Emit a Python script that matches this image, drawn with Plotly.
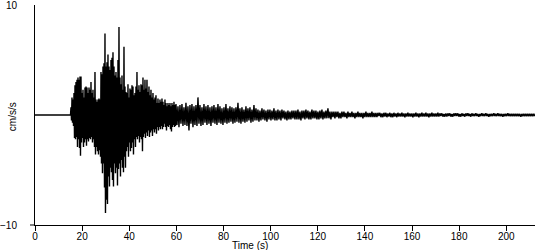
import plotly.graph_objects as go

# ---- data (cm/s/s) ----
t_onset = 14.85      # s, first sample of the strong-motion part
dt = 0.4243          # s, spacing of the peak samples
pre_event_time = [0.0, 14.85]
pre_event_acc = [0.0, 0.0]

strong_max = [0.0, 0.7, 1.6, 1.4, 2.0, 2.7, 3.0, 3.2, 3.4, 3.2,
              3.5, 3.5, 2.0, 2.3, 1.6, 2.5, 2.6, 2.5, 2.0, 2.5,
              2.3, 3.0, 2.0, 2.3, 1.6, 3.9, 1.4, 1.2, 1.4, 1.5,
              1.4, 3.9, 3.7, 4.4, 4.7, 7.4, 4.4, 4.8, 5.5, 4.4,
              4.1, 5.0, 5.2, 5.7, 4.4, 3.6, 3.9, 3.4, 5.0, 8.0,
              3.4, 2.8, 3.6, 2.3, 6.2, 2.6, 2.1, 2.0, 2.8, 1.6,
              2.4, 2.3, 2.7, 2.6, 1.8, 2.0, 2.6, 3.9, 2.3, 2.7,
              2.1, 2.8, 2.7, 3.4, 2.3, 3.2, 2.4, 3.2, 2.1, 2.6,
              1.8, 2.3, 1.6, 2.0, 1.4, 1.6, 1.8, 1.1, 1.5, 1.1,
              1.4, 1.2, 1.5, 1.2, 0.9, 1.4, 1.1, 0.8, 1.1, 0.9,
              1.1, 0.8, 1.1, 0.9, 1.2, 0.9]
strong_min = [0.0, -0.5, -0.7, -1.0, -2.1, -2.2, -2.0, -2.9, -2.2, -3.0,
              -3.7, -2.5, -2.1, -2.9, -2.5, -2.2, -2.8, -2.2, -2.4, -2.1,
              -2.2, -2.0, -2.5, -2.2, -2.9, -3.6, -2.9, -3.3, -3.6, -3.2,
              -3.8, -4.4, -5.3, -4.4, -6.6, -8.9, -7.7, -8.1, -5.6, -6.5,
              -4.8, -5.2, -5.9, -6.5, -4.4, -5.3, -4.8, -6.4, -4.9, -4.4,
              -5.6, -4.1, -4.8, -5.2, -3.8, -4.8, -3.3, -2.9, -3.8, -2.5,
              -3.3, -3.0, -2.5, -3.6, -2.2, -2.9, -2.0, -2.2, -1.9, -2.5,
              -2.0, -2.2, -3.3, -2.0, -1.7, -2.1, -1.6, -1.9, -1.4, -2.0,
              -1.6, -1.4, -1.9, -1.3, -1.6, -1.3, -1.7, -1.1, -1.4, -1.1,
              -1.3, -1.0, -1.3, -1.1, -0.8, -1.1, -1.4, -1.0, -1.1, -0.9,
              -1.3, -1.5, -1.1, -0.9, -1.1, -1.0]

tail_peaks = [
    1.0, -0.9, 0.8, -1.1, 0.9, -0.8, 1.0, -1.0, 0.7, -0.9, 1.1, -1.0, 0.8, -1.4, 0.9, -0.8, 1.0, -1.1, 0.8, -0.9,
    0.9, -1.0, 1.6, -0.8, 0.9, -1.0, 0.7, -0.9, 1.0, -0.7, 0.8, -0.9, 0.9, -0.8, 0.7, -1.0, 0.8, -0.7, 0.9, -0.8,
    0.7, -0.9, 1.0, -0.7, 0.8, -0.8, 0.6, -0.9, 0.7, -0.7, 1.0, -0.8, 0.6, -0.7, 0.8, -0.6, 0.7, -0.8, 0.6, -0.7,
    0.7, -0.6, 1.1, -0.7, 0.6, -0.8, 0.7, -0.6, 0.5, -0.7, 0.8, -0.6, 0.6, -0.5, 0.7, -0.7, 0.5, -0.6, 0.9, -0.5,
    0.6, -0.5, 0.5, -0.6, 0.4, -0.5, 0.6, -0.4, 0.5, -0.5, 0.4, -0.6, 0.5, -0.4, 0.5, -0.5, 0.4, -0.4, 0.6, -0.5,
    0.4, -0.5, 0.5, -0.4, 0.4, -0.5, 0.5, -0.3, 0.4, -0.4, 0.3, -0.5, 0.4, -0.4, 0.3, -0.4, 0.4, -0.3, 0.4, -0.4,
    0.4, -0.4, 0.5, -0.4, 0.3, -0.5, 0.4, -0.3, 0.4, -0.4, 0.5, -0.3, 0.4, -0.4, 0.3, -0.4, 0.5, -0.3, 0.4, -0.3,
    0.4, -0.4, 0.3, -0.4, 0.4, -0.3, 0.5, -0.4, 0.3, -0.3, 0.4, -0.3, 0.6, -0.3, 0.3, -0.4, 0.3, -0.2, 0.3, -0.3,
    0.3, -0.2, 0.3, -0.3, 0.2, -0.3, 0.3, -0.2, 0.3, -0.2, 0.2, -0.3, 0.3, -0.2, 0.2, -0.2, 0.3, -0.2, 0.2, -0.3,
    0.2, -0.2, 0.3, -0.2, 0.2, -0.2, 0.2, -0.3, 0.2, -0.2, 0.3, -0.2, 0.2, -0.2, 0.2, -0.2, 0.3, -0.2, 0.2, -0.2,
    0.2, -0.2, 0.2, -0.1, 0.2, -0.2, 0.15, -0.2, 0.2, -0.15, 0.2, -0.2, 0.15, -0.15, 0.2, -0.2, 0.15, -0.2, 0.2, -0.15,
    0.15, -0.2, 0.2, -0.15, 0.15, -0.15, 0.2, -0.15, 0.15, -0.2, 0.15, -0.15, 0.2, -0.15, 0.15, -0.15, 0.15, -0.2, 0.15, -0.15,
    0.2, -0.15, 0.15, -0.2, 0.15, -0.15, 0.2, -0.15, 0.15, -0.15, 0.2, -0.15, 0.15, -0.2, 0.15, -0.15, 0.2, -0.15, 0.15, -0.15,
    0.15, -0.15, 0.2, -0.15, 0.15, -0.1, 0.15, -0.15, 0.1, -0.15, 0.15, -0.15, 0.15, -0.1, 0.15, -0.15, 0.1, -0.15, 0.15, -0.1,
    0.15, -0.1, 0.15, -0.15, 0.1, -0.15, 0.15, -0.1, 0.1, -0.15, 0.15, -0.1, 0.15, -0.1, 0.1, -0.15, 0.15, -0.1, 0.1, -0.1,
    0.15, -0.1, 0.1, -0.15, 0.1, -0.1, 0.15, -0.1, 0.1, -0.1, 0.15, -0.1, 0.1, -0.15, 0.1, -0.1, 0.1, -0.1, 0.15, -0.1,
    0.1, -0.1, 0.15, -0.1, 0.1, -0.1, 0.1, -0.15, 0.1, -0.1, 0.1, -0.1, 0.15, -0.1, 0.1, -0.1, 0.1, -0.1, 0.1, -0.1,
    0.1, -0.1, 0.1, -0.1, 0.1, -0.15, 0.1, -0.1, 0.1, -0.1, 0.1, -0.1, 0.1, -0.1, 0.1, -0.1, 0.1, -0.1, 0.1, -0.1,
]

x_ticks = [0, 20, 40, 60, 80, 100, 120, 140, 160, 180, 200]
y_ticks = [-10, 10]
x_title = "Time (s)"
y_title = "cm/s/s"

# ---- assemble the record ----
time = list(pre_event_time)
acc = list(pre_event_acc)
for i, (hi, lo) in enumerate(zip(strong_max, strong_min)):
    t = t_onset + i * dt
    time += [t, t + dt / 2]
    acc += [hi, lo]
t_tail = t_onset + len(strong_max) * dt
for i, v in enumerate(tail_peaks):
    time.append(t_tail + i * dt)
    acc.append(v)

FONT = "Liberation Sans, Arial, sans-serif"
FS = 10

fig = go.Figure(go.Scatter(x=time, y=acc, mode="lines",
                           line=dict(color="black", width=1.4),
                           hoverinfo="skip"))

fig.update_layout(
    width=550, height=250,
    margin=dict(l=35, r=15, t=5, b=25),
    paper_bgcolor="white", plot_bgcolor="white",
    showlegend=False,
    font=dict(family=FONT, size=FS, color="black"),
    xaxis=dict(range=[0, 212.2], tickvals=x_ticks, ticks="outside",
               ticklen=5, tickcolor="black", showline=True, linecolor="black",
               linewidth=1, showgrid=False, zeroline=False, automargin=False,
               ticklabelstandoff=-3,
               tickfont=dict(family=FONT, size=FS, color="black")),
    yaxis=dict(range=[-10, 10], tickvals=y_ticks, ticks="", showline=True,
               linecolor="black", linewidth=1, showgrid=False, zeroline=False,
               automargin=False,
               ticklabelstandoff=15, ticklabeloverflow="allow",
               tickfont=dict(family=FONT, size=FS, color="black")),
    annotations=[
        dict(text=x_title, xref="paper", yref="paper", x=0.429, y=-0.091,
             xanchor="center", yanchor="middle", showarrow=False,
             font=dict(family=FONT, size=FS, color="black")),
        dict(text=y_title, xref="paper", yref="paper", x=-0.046, y=0.49,
             xanchor="center", yanchor="middle", textangle=-90,
             showarrow=False, font=dict(family=FONT, size=FS, color="black")),
    ],
    shapes=[dict(type="line", xref="paper", yref="paper", x0=-0.01, x1=0,
                 y0=0, y1=0, line=dict(color="black", width=1))],
)

fig.write_html("out.html")
